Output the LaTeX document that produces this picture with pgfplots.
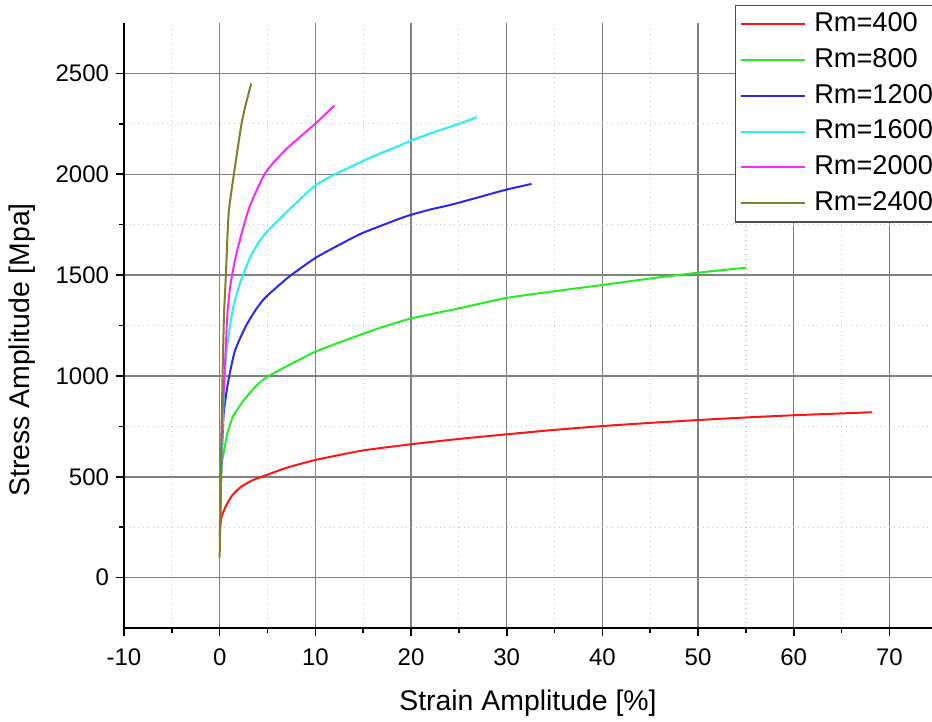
\documentclass[border=0pt]{standalone}
\usepackage{pgfplots}
\pgfplotsset{compat=1.18}
\usepackage{fontspec}
\setmainfont{Liberation Sans}
\definecolor{cRed}{RGB}{255,20,20}
\definecolor{cGreen}{RGB}{40,235,40}
\definecolor{cBlue}{RGB}{40,40,240}
\definecolor{cCyan}{RGB}{40,240,240}
\definecolor{cMag}{RGB}{250,40,250}
\definecolor{cOlive}{RGB}{128,128,40}
\begin{document}
\begin{tikzpicture}
\useasboundingbox (-62bp,-47bp) rectangle (404bp,314bp);
\clip (-62bp,-47bp) rectangle (404bp,314bp);
\begin{axis}[
  scale only axis, width=404bp, height=302.5bp,
  xmin=-10, xmax=74.45, ymin=-250, ymax=2750,
  axis x line*=bottom, axis y line*=left,
  axis line style={-, line width=1bp, black},
  tick align=outside,
  major tick length=4bp, minor tick length=2.5bp,
  every tick/.style={black, line width=0.8bp},
  xtick={-10,0,...,70}, minor x tick num=1,
  ytick={0,500,...,2500}, minor y tick num=1,
  grid=both,
  major grid style={black!50, line width=0.75bp},
  minor grid style={black!22, dotted, line width=0.6bp},
  /pgf/number format/assume math mode=true,
  /pgf/number format/set thousands separator={},
  ticklabel style={font=\fontsize{12bp}{14bp}\selectfont},
  xticklabel style={yshift=-3bp},
  xlabel={Strain Amplitude [\%]},
  ylabel={Stress Amplitude [Mpa]},
  label style={font=\fontsize{14.2bp}{16bp}\selectfont},
  xlabel style={at={(axis description cs:0.5,-0.124)}, anchor=center},
  ylabel style={at={(axis description cs:-0.1256,0.4595)}, anchor=center},
  legend cell align=left,
  legend image code/.code={\draw[#1, line width=1bp] (0bp,0bp) -- (32bp,0bp);},
  legend style={at={(0.7565,1.0298)}, anchor=north west, draw=black!70,
    line width=0.6bp, fill=white, font=\fontsize{13.6bp}{16bp}\selectfont,
    inner xsep=2bp, inner ysep=3bp, row sep=5.2bp,
    nodes={inner sep=0pt, text height=10bp, text depth=2.7bp},
    /tikz/every odd column/.append style={column sep=4.2bp}},
]
\addplot[cRed, line width=1bp, smooth, tension=0.35] coordinates {(0.0,240) (0.2,300) (0.6,350) (1.3,407) (2.2,449) (3.4,482) (4.8,507) (7.1,546) (10,583) (14.8,629) (20,661) (24.9,687) (29.9,710) (34.9,732) (39.9,751) (44.95,767) (49.9,781) (55,794) (60,805) (65,814) (68.2,820)};
\addlegendentry{Rm=400}
\addplot[cGreen, line width=1bp, smooth, tension=0.35] coordinates {(0.02,200) (0.1,400) (0.2,560) (0.45,625) (0.8,715) (1.4,800) (2.5,878) (3.7,946) (4.95,995) (6.9,1045) (9.9,1118) (13.2,1178) (16.6,1236) (20,1285) (25,1335) (29.9,1386) (35,1420) (40,1451) (45,1483) (50,1512) (55.05,1537)};
\addlegendentry{Rm=800}
\addplot[cBlue, line width=1bp, smooth, tension=0.35] coordinates {(0.02,200) (0.15,500) (0.42,813) (0.94,985) (1.6,1125) (2.7,1244) (3.8,1330) (4.8,1390) (7.2,1490) (10,1585) (12.5,1650) (14.9,1708) (18.7,1778) (20,1799) (22,1825) (24.2,1849) (27,1885) (29.9,1923) (32.6,1952)};
\addlegendentry{Rm=1200}
\addplot[cCyan, line width=1bp, smooth, tension=0.35] coordinates {(0.02,250) (0.2,600) (0.5,979) (0.77,1145) (1.3,1311) (1.6,1377) (2.3,1485) (3.4,1609) (4.8,1708) (7.6,1840) (10,1945) (12.1,2001) (14.9,2064) (16.6,2100) (18.7,2140) (20,2167) (22.5,2210) (25,2250) (26.9,2284)};
\addlegendentry{Rm=1600}
\addplot[cMag, line width=1bp, smooth, tension=0.35] coordinates {(0.02,250) (0.2,700) (0.5,1000) (0.8,1300) (1.1,1443) (1.6,1575) (2.3,1708) (3.2,1849) (4.8,2009) (6.9,2122) (10,2251) (12.0,2341)};
\addlegendentry{Rm=2000}
\addplot[cOlive, line width=1bp, smooth, tension=0.35] coordinates {(0.0,100) (0.15,600) (0.3,1000) (0.45,1300) (0.6,1450) (0.7,1560) (0.94,1807) (1.5,2006) (2.3,2255) (2.8,2360) (3.3,2450)};
\addlegendentry{Rm=2400}
\end{axis}
\end{tikzpicture}
\end{document}
